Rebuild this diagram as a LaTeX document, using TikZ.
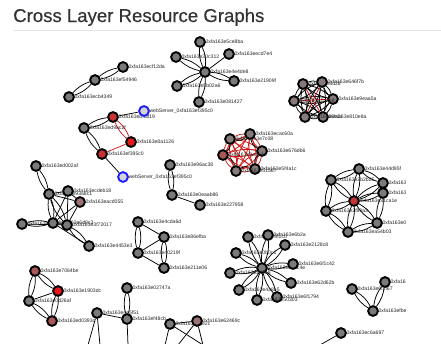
\documentclass[tikz,border=0pt]{standalone}
\usepackage{fontspec}
\setmainfont{Liberation Sans}
\newfontfamily\titlefont[FakeBold=0.35]{Liberation Sans}
\pgfdeclarelayer{bg}
\pgfsetlayers{bg,main}
\definecolor{ndgray}{HTML}{7A7A7A}
\definecolor{redA}{HTML}{E8151A}
\definecolor{redB}{HTML}{C83232}
\definecolor{brownA}{HTML}{9A7474}
\definecolor{mauve}{HTML}{877A7A}
\definecolor{redC}{HTML}{A85656}
\definecolor{blueS}{HTML}{1E1EFF}
\definecolor{blueF}{HTML}{D4D4D4}
\definecolor{edgeR}{HTML}{D01818}
\definecolor{titleC}{HTML}{333333}
\definecolor{labC}{HTML}{222222}
\tikzset{
  nd/.style={circle, draw=black, line width=1.9pt, fill=ndgray, minimum size=9.8pt, inner sep=0pt},
  ndr/.style={nd, fill=redA},
  ndd/.style={nd, fill=redB},
  ndb/.style={nd, fill=brownA},
  ndm/.style={nd, fill=mauve},
  ndc/.style={nd, fill=redC},
  ndw/.style={nd, draw=blueS, fill=blueF},
  lab/.style={font=\fontsize{5.1}{6}\selectfont, text=labC, inner sep=0.3pt, anchor=west},
  edge/.style={line width=0.75pt, black},
  redge/.style={line width=0.75pt, edgeR},
}
\newcommand\dblEdge[3][edge]{\draw[#1] (#2) to[bend left=14] (#3) (#2) to[bend right=14] (#3);}
\newcommand\oneEdge[3][edge]{\draw[#1] (#2) -- (#3);}
\begin{document}
\begin{tikzpicture}[x=1pt,y=-1pt]
\useasboundingbox (0,0) rectangle (441,343);
\node[anchor=base west, inner sep=0, font=\titlefont\fontsize{18.6}{20}\selectfont, text=titleC] (title) at (13,22) {Cross Layer Resource Graphs};
\draw[line width=0.5pt, black!10] (13,30.5) coordinate (rl) -- (441,30.5) coordinate (rr);
\begin{scope}
\clip (0,32) rectangle (405,343);
% ---------- top star ----------
\node[nd] (s0) at (205,72) {}; \node[lab] at (210,72) {0xfa163e4e4de8};
\node[nd] (s1) at (200,42) {}; \node[lab] at (205,42) {0xfa163e5ce8ba};
\node[nd] (s2) at (176,57) {}; \node[lab] at (181,57) {0xfa163e30c312};
\node[nd] (s3) at (229,54) {}; \node[lab] at (234,54) {0xfa163eecd7e4};
\node[nd] (s4) at (234,81) {}; \node[lab] at (239,81) {0xfa163e21909f};
\node[nd] (s5) at (177,86) {}; \node[lab] at (182,86) {0xfa163e5b02a6};
\node[nd] (s6) at (199,102) {}; \node[lab] at (204,102) {0xfa163e081427};
% ---------- left chain ----------
\node[nd] (c1) at (123,67) {}; \node[lab] at (128,67) {0xfa163ecf12da};
\node[nd] (c2) at (95,80) {};  \node[lab] at (100,80) {0xfa163ef54946};
\node[nd] (c3) at (69,97) {};  \node[lab] at (74,97) {0xfa163ecb4349};
% ---------- red cluster ----------
\node[ndd] (r1) at (113,117) {}; \node[lab] at (118,117) {0xfa163ed4af19};
\node[nd]  (r2) at (84,128) {};  \node[lab] at (89,128) {0xfa163ed9ac2f};
\node[ndr] (r3) at (131,142) {}; \node[lab] at (136,142) {0xfa163e8a1126};
\node[ndd] (r4) at (102,154) {}; \node[lab] at (107,154) {0xfa163ef395c0};
\node[ndw] (b1) at (144,111) {}; \node[lab] at (149,111) {webServer\_0xfa163ef395c0};
\node[ndw] (b2) at (123,177) {}; \node[lab] at (128,177) {webServer\_0xfa163ef395c0};
% ---------- left cluster ----------
\node[nd] (l1) at (36,166) {}; \node[lab] at (41,166) {0xfa163ed002af};
\node[nd] (l2) at (49,194) {}; \node[lab] at (54,194) {0xfa163e93a8c1};
\node[nd] (l3) at (68,191) {}; \node[lab] at (73,191) {0xfa163ecdeb18};
\node[ndb] (l4) at (80,202) {}; \node[lab] at (85,202) {0xfa163eacd055};
\node[nd] (l5) at (22,224) {}; \node[lab] at (27,224) {0xfa163e2f9c4e};
\node[nd] (l6) at (53,223) {}; \node[lab] at (58,223) {0xfa163e6d0c3};
\node[nd] (l7) at (67,225) {}; \node[lab] at (72,225) {0xfa163e3f72017};
\node[nd] (l8) at (89,246) {}; \node[lab] at (94,246) {0xfa163e4453e3};
% ---------- center-left cluster ----------
\node[nd] (m1) at (138,222) {}; \node[lab] at (143,222) {0xfa163e4cda6d};
\node[nd] (m2) at (164,237) {}; \node[lab] at (169,237) {0xfa163e86efba};
\node[nd] (m3) at (138,253) {}; \node[lab] at (143,253) {0xfa163e40219f};
\node[nd] (m4) at (164,268) {}; \node[lab] at (169,268) {0xfa163e211e06};
% ---------- middle ----------
\node[nd] (k1) at (170,165) {}; \node[lab] at (175,165) {0xfa163e96ac38};
\node[nd] (k2) at (172,195) {}; \node[lab] at (177,195) {0xfa163e0eaab86};
\node[nd] (k3) at (200,205) {}; \node[lab] at (205,205) {0xfa163e227958};
% ---------- dense red cluster ----------
\node[ndm] (d1) at (230,139) {}; \node[lab] at (235,139) {0xfa163e3e7c08};
\node[ndm] (d2) at (250,134) {}; \node[lab] at (255,134) {0xfa163ecac60a};
\node[ndm] (d3) at (262,151) {}; \node[lab] at (267,151) {0xfa163e676db6};
\node[ndm] (d4) at (255,169) {}; \node[lab] at (260,169) {0xfa163e5f4a1c};
\node[ndm] (d5) at (236,171) {}; \node[lab] at (241,171) {0xfa163e51567};
\node[ndc] (d6) at (223,155) {}; \node[lab] at (228,155) {0xfa163e8e3e4};
% ---------- top right dense ----------
\node[ndm] (t1) at (303,84) {};  \node[lab] at (308,84) {0xfa163e8d28};
\node[ndm] (t2) at (322,82) {};  \node[lab] at (327,82) {0xfa163e646f7b};
\node[ndm] (t3) at (333,99) {};  \node[lab] at (338,99) {0xfa163e9eaa5a};
\node[ndm] (t4) at (323,117) {}; \node[lab] at (328,117) {0xfa163e810e8a};
\node[ndm] (t5) at (305,117) {}; \node[lab] at (310,117) {0xfa163e6e1c};
\node[ndm] (t6) at (294,101) {}; \node[lab] at (299,101) {0xfa163e2a4e8};
% ---------- right cluster ----------
\node[ndd] (q0) at (354,201) {}; \node[lab] at (359,201) {0xfa163e31ca1e};
\node[nd] (q1) at (359,169) {}; \node[lab] at (364,169) {0xfa163e44d95f};
\node[nd] (q2) at (331,180) {}; \node[lab] at (336,180) {0xfa163e2b2b25};
\node[nd] (q3) at (383,183) {}; \node[lab] at (388,183) {0xfa163e4c1d2};
\node[nd] (q4) at (383,193) {}; \node[lab] at (388,193) {0xfa163e7b0a8};
\node[nd] (q5) at (326,211) {}; \node[lab] at (331,211) {0xfa163e2f80a3};
\node[nd] (q6) at (348,232) {}; \node[lab] at (353,232) {0xfa163ea54b03};
\node[nd] (q7) at (377,223) {}; \node[lab] at (382,223) {0xfa163e03e1f};
% ---------- bottom star ----------
\node[nd] (h0) at (262,268) {}; \node[lab] at (267,268) {0xfa163e6d8c4e};
\node[nd] (h1) at (248,237) {}; \node[lab] at (253,237) {0xfa163e9f1c0};
\node[nd] (h2) at (268,235) {}; \node[lab] at (273,235) {0xfa163e6b2a};
\node[nd] (h3) at (285,245) {}; \node[lab] at (290,245) {0xfa163e2128c8};
\node[nd] (h4) at (293,264) {}; \node[lab] at (298,264) {0xfa163e6f1c42};
\node[nd] (h5) at (291,283) {}; \node[lab] at (296,283) {0xfa163e62d62b};
\node[nd] (h6) at (277,297) {}; \node[lab] at (282,297) {0xfa163e6f1794};
\node[nd] (h7) at (257,300) {}; \node[lab] at (262,300) {0xfa163e50303};
\node[nd] (h8) at (239,290) {}; \node[lab] at (244,290) {0xfa163e4a8e5};
\node[nd] (h9) at (230,273) {}; \node[lab] at (235,273) {0xfa163e2d2e8};
\node[nd] (h10) at (236,253) {}; \node[lab] at (241,253) {0xfa163e0b0c1};
% ---------- right triangle ----------
\node[nd] (u1) at (352,289) {}; \node[lab] at (357,289) {0xfa163e6f1f67};
\node[nd] (u2) at (385,282) {}; \node[lab] at (390,282) {0xfa163e5c};
\node[nd] (u3) at (373,311) {}; \node[lab] at (378,311) {0xfa163efbec};
\node[nd] (u4) at (341,333) {}; \node[lab] at (346,333) {0xfa163ec6a697};
\coordinate (u4e) at (320,345);
% ---------- bottom left ----------
\node[ndc] (f1) at (35,271) {}; \node[lab] at (40,271) {0xfa163e7064be};
\node[ndr] (f2) at (58,291) {}; \node[lab] at (63,291) {0xfa163e1903dc};
\node[nd]  (f3) at (29,301) {}; \node[lab] at (34,301) {0xfa163e0d26af};
\node[ndc] (f4) at (52,321) {}; \node[lab] at (57,321) {0xfa163ed0393c};
% ---------- bottom centre ----------
\node[nd] (g1) at (127,288) {}; \node[lab] at (132,288) {0xfa163e02747a};
\node[nd] (g2) at (127,319) {}; \node[lab] at (132,319) {0xfa163ef48cb};
\node[nd] (g3) at (97,313) {};  \node[lab] at (102,313) {0xfa163e4e5f51};
\node[nd] (g4) at (170,324) {}; \node[lab] at (175,324) {0xfa163e6ae2c};
\node[ndb] (g5) at (197,321) {}; \node[lab] at (202,321) {0xfa163e62469c};
\coordinate (g3a) at (88,345); \coordinate (g3b) at (100,345);
\coordinate (g2a) at (128,345);
\coordinate (g4a) at (165,345); \coordinate (g4b) at (178,345);
\coordinate (g5a) at (190,345); \coordinate (g5b) at (203,345);
% ================= edges =================
\begin{pgfonlayer}{bg}
\dblEdge{s0}{s1}\dblEdge{s0}{s2}\oneEdge{s0}{s3}\dblEdge{s0}{s4}\dblEdge{s0}{s5}\dblEdge{s0}{s6}
\dblEdge{c1}{c2}\dblEdge{c2}{c3}
\dblEdge{r2}{r1}\dblEdge{r2}{r4}\dblEdge[redge]{r1}{r3}\oneEdge[redge]{r3}{r4}
\oneEdge{r1}{b1}\oneEdge{r4}{b2}
\dblEdge{l1}{l2}\oneEdge{l2}{l3}\oneEdge{l2}{l4}\dblEdge{l2}{l6}\dblEdge{l2}{l7}
\oneEdge{l3}{l4}\oneEdge{l3}{l6}\oneEdge{l3}{l7}\oneEdge{l4}{l6}\oneEdge{l4}{l7}
\dblEdge{l5}{l6}\oneEdge{l5}{l7}\oneEdge{l6}{l7}\dblEdge{l7}{l8}\oneEdge{l6}{l8}
\oneEdge{m1}{m2}\dblEdge{m1}{m3}\oneEdge{m2}{m3}\dblEdge{m2}{m4}\oneEdge{m3}{m4}
\dblEdge{k1}{k2}\oneEdge{k2}{k3}
\foreach \a/\b in {d1/d2,d2/d3,d3/d4,d4/d5,d5/d6,d6/d1,d1/d3,d1/d4,d1/d5,d2/d4,d2/d5,d2/d6,d3/d5,d3/d6,d4/d6}
  {\dblEdge[redge]{\a}{\b}}
\foreach \a/\b in {d1/d2,d2/d3,d3/d4,d4/d5,d5/d6,d6/d1}{\draw[edge] (\a) to[bend right=25] (\b);}
\foreach \a/\b in {t1/t2,t2/t3,t3/t4,t4/t5,t5/t6,t6/t1,t1/t3,t1/t4,t1/t5,t2/t4,t2/t5,t2/t6,t3/t5,t3/t6,t4/t6}
  {\dblEdge{\a}{\b}}
\foreach \a/\b in {t6/t3,t1/t4,t5/t2}{\draw[redge] (\a) -- (\b);}
\foreach \b in {q1,q2,q3,q4,q5,q6,q7}{\dblEdge{q0}{\b}}
\foreach \a/\b in {q2/q1,q1/q3,q3/q4,q4/q7,q7/q6,q6/q5,q5/q2}{\dblEdge{\a}{\b}}
\foreach \b in {h1,h2,h3,h4,h5,h6,h7,h8,h9,h10}{\dblEdge{h0}{\b}}
\dblEdge{u1}{u3}\dblEdge{u2}{u3}\oneEdge{u4}{u4e}
\dblEdge{f1}{f3}\dblEdge{f1}{f2}\oneEdge{f2}{f3}\dblEdge{f3}{f4}\dblEdge{f2}{f4}
\dblEdge{g1}{g2}\oneEdge{g3}{g2}\oneEdge{g3}{g3a}\oneEdge{g3}{g3b}\oneEdge{g2}{g2a}
\oneEdge{g4}{g5}\oneEdge{g4}{g4a}\oneEdge{g4}{g5b}\oneEdge{g5}{g4b}\oneEdge{g5}{g5b}
\end{pgfonlayer}
\end{scope}
\end{tikzpicture}
\end{document}
